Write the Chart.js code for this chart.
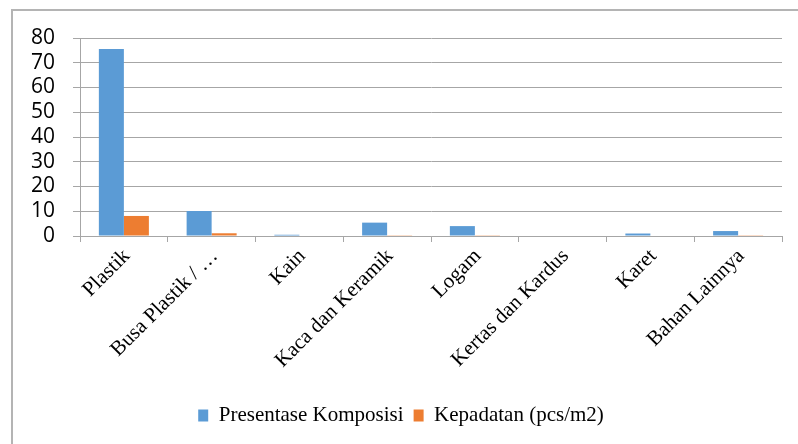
<!DOCTYPE html>
<html>
<head>
<meta charset="utf-8">
<script src="https://cdn.jsdelivr.net/npm/chart.js@4.4.1/dist/chart.umd.min.js"></script>
<style>
  html, body { margin: 0; padding: 0; background: #fff; }
  #wrap { position: relative; width: 798px; height: 444px; overflow: hidden; }
  #frame { position: absolute; left: 11px; top: 9px; width: 900px; height: 500px;
           border-left: 2px solid #b4b4b4; border-top: 2px solid #b4b4b4; box-sizing: border-box; }
  canvas { position: absolute; left: 0; top: 0; }
</style>
</head>
<body>
<div id="wrap">
  <div id="frame"></div>
  <canvas id="c" width="798" height="444"></canvas>
</div>
<script>
// Jenis sampah: persentase komposisi dan kepadatan
const categories = ['Plastik', 'Busa Plastik / …', 'Kain', 'Kaca dan Keramik', 'Logam', 'Kertas dan Kardus', 'Karet', 'Bahan Lainnya'];
const komposisi = [75.6, 10.1, 0.5, 5.4, 4.0, 0.2, 1.0, 2.0];
const kepadatan = [8.1, 1.1, 0, 0.3, 0.3, 0, 0, 0.1];
const yTicks = [0, 10, 20, 30, 40, 50, 60, 70, 80];

const GRID = '#a6a6a6';
const SERIF = '"Liberation Serif", "Times New Roman", serif';

// Move the legend block so its centre sits at a chosen x position
const legendShift = {
  id: 'legendShift',
  afterLayout(chart) {
    const lg = chart.legend;
    if (!lg) return;
    const target = 401;
    const delta = target - (lg.left + lg.right) / 2;
    lg.left += delta;
    lg.right += delta;
  }
};

new Chart(document.getElementById('c'), {
  type: 'bar',
  data: {
    labels: categories,
    datasets: [
      { label: 'Presentase Komposisi', data: komposisi, backgroundColor: '#5b9bd5',
        categoryPercentage: 0.57, barPercentage: 1.0 },
      { label: 'Kepadatan (pcs/m2)', data: kepadatan, backgroundColor: '#ed7d31',
        categoryPercentage: 0.57, barPercentage: 1.0 }
    ]
  },
  options: {
    responsive: false,
    animation: false,
    devicePixelRatio: 1,
    layout: { padding: { left: 0, right: 16, top: 38, bottom: 8 } },
    plugins: {
      legend: {
        position: 'bottom',
        labels: {
          font: { family: SERIF, size: 21 },
          color: '#000',
          boxWidth: 10,
          boxHeight: 12,
          padding: 10
        }
      },
      tooltip: { enabled: false }
    },
    scales: {
      x: {
        offset: true,
        grid: { display: true, drawOnChartArea: false, drawTicks: true, tickLength: 6, color: GRID, offset: true },
        border: { display: true, color: GRID, width: 1 },
        ticks: {
          minRotation: 45, maxRotation: 45, autoSkip: false,
          color: '#000',
          font: { family: SERIF, size: 21 },
          padding: 2,
          labelOffset: 3
        },
        afterFit(scale) { scale.height = 159; }
      },
      y: {
        min: 0, max: 80,
        afterBuildTicks(scale) { scale.ticks = yTicks.map(v => ({ value: v })); },
        grid: { color: GRID, lineWidth: 1, drawTicks: true, tickLength: 7 },
        border: { display: true, color: GRID, width: 1 },
        ticks: {
          autoSkip: false,
          color: '#000',
          font: { family: '"Open Sans", sans-serif', size: 21 },
          padding: 18
        },
        afterFit(scale) { scale.width = 80; }
      }
    }
  },
  plugins: [legendShift]
});
</script>
</body>
</html>
